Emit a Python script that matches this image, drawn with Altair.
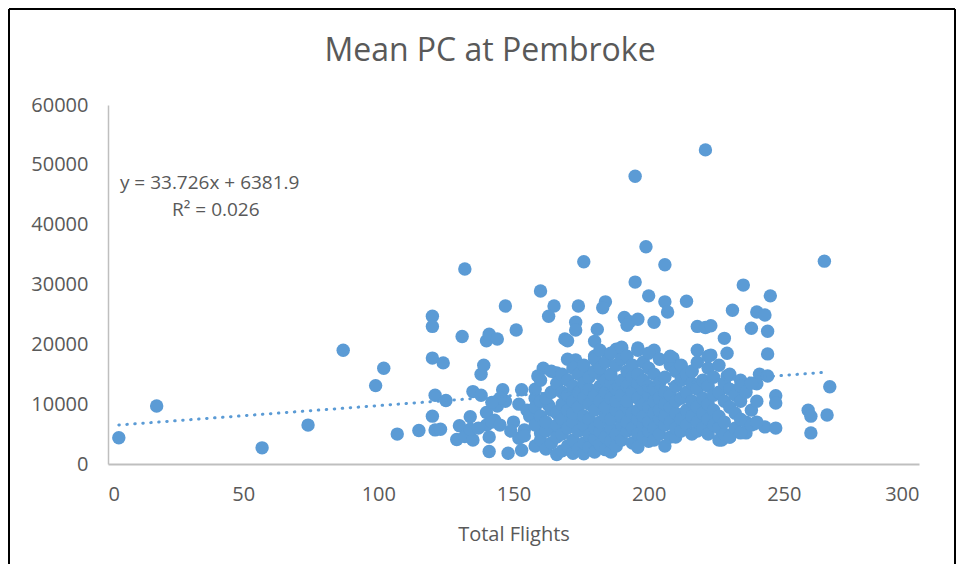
import altair as alt
import pandas as pd

# ---- sparse / outlying points (Total Flights, Mean PC) ----
flights_left = [4, 18, 57, 74, 87, 99, 102, 107, 115, 120,
                121, 123, 120, 120, 120, 124, 121, 125, 131, 130,
                129, 132, 135, 135, 138, 138, 139, 140, 141, 144,
                151, 146, 140, 144, 134, 140, 143, 141, 141, 148,
                153, 153, 152, 155, 156, 158, 163, 163, 160, 160,
                154, 152, 154, 147, 150, 149, 145, 142, 142, 145,
                134, 137]
pc_left = [4400, 9700, 2700, 6500, 19000, 13100, 16000, 5000, 5600, 8000,
           5700, 5800, 24700, 23000, 17700, 16900, 11500, 10600, 21300, 6400,
           4100, 4600, 4000, 12100, 11500, 15000, 16500, 20600, 21700, 20900,
           22400, 12400, 8600, 9700, 5800, 6500, 7300, 4500, 2100, 1800,
           2300, 12400, 10000, 9000, 8000, 11000, 9800, 6000, 7400, 5200,
           5700, 4300, 4700, 10500, 7000, 5500, 11000, 10300, 7000, 6500,
           7900, 6000]

flights_high = [221, 195, 199, 176, 206, 265, 132, 195, 235, 160,
                200, 245, 184, 174, 206, 214, 147, 165, 183, 207,
                231, 240, 243, 163, 191, 193, 196, 192, 173, 202,
                218, 221, 223, 238, 244, 173, 181, 169, 228, 180,
                170, 188, 190, 196, 202, 180, 185, 191, 218, 223,
                244, 229, 161, 173, 176, 182, 159, 166, 209, 212,
                216, 241, 244, 229, 234, 240, 247, 247, 259, 260,
                266, 260, 267, 239, 243, 247, 236, 230, 227]
pc_high = [52500, 48100, 36300, 33800, 33300, 33900, 32600, 30400, 29900, 28900,
           28100, 28100, 27100, 26400, 27100, 27200, 26400, 26400, 26100, 25400,
           25700, 25400, 24900, 24700, 24500, 23800, 24200, 23200, 23700, 23700,
           23000, 22800, 23100, 22700, 22200, 22400, 22500, 20900, 21000, 20500,
           20600, 19200, 19300, 19400, 19000, 18000, 18200, 18000, 19000, 18200,
           18400, 18500, 16000, 17400, 16200, 15000, 14700, 15200, 17700, 16400,
           15500, 15000, 14700, 14700, 14000, 13400, 11400, 10200, 9000, 8000,
           8200, 5200, 12900, 6700, 6200, 6000, 5200, 4500, 4000]

# ---- dense central cloud: Total Flights -> Mean PC values ----
cloud = {
    158: [3000, 6500, 9500, 12500],
    160: [4000, 8000, 10500, 14000],
    162: [2500, 5500, 7000, 11000],
    164: [3500, 9000, 12000, 15500],
    166: [1600, 4500, 6500, 8500, 13500],
    168: [2200, 5000, 7500, 10000, 12000, 15000],
    170: [3000, 6000, 9000, 11500, 14000, 17500],
    172: [1800, 4000, 7000, 8500, 10500, 13000, 16000],
    174: [2500, 5500, 9500, 12000, 15000],
    176: [1700, 3500, 6500, 8000, 11000, 13500, 16500],
    178: [2800, 4800, 7500, 10000, 12500, 14500],
    180: [2000, 4200, 6000, 9000, 11500, 15500, 17500],
    182: [3200, 5500, 7000, 10500, 13000, 16000, 19000],
    184: [2400, 4500, 8000, 9500, 12000, 14000, 17000],
    186: [2000, 3800, 6000, 7500, 11000, 13500, 15000, 18500],
    188: [3000, 5000, 9000, 10500, 12500, 16500],
    190: [4000, 6500, 8000, 11500, 14000, 17500, 19500],
    192: [5500, 7000, 9500, 10500, 13000, 15500, 18000],
    194: [3500, 6000, 8500, 12000, 14500, 16500],
    196: [2800, 5000, 7500, 9000, 11000, 13500, 15000, 19000],
    198: [4500, 6500, 8000, 10000, 12500, 14000, 17000],
    200: [3800, 5500, 7000, 9500, 11500, 13000, 16000, 18500],
    202: [4000, 6000, 8500, 10500, 12500, 15000],
    204: [5000, 7500, 9000, 11000, 13500, 17500],
    206: [3000, 6500, 8000, 10000, 12000, 14500],
    208: [4500, 7000, 9500, 11500, 16500, 18000],
    210: [4500, 6000, 8500, 10500, 13000, 15500],
    212: [5500, 7500, 11000, 14000, 16500],
    214: [6500, 9000, 12000, 15000],
    216: [5000, 8000, 10500, 13500, 15500],
    218: [5500, 7000, 9500, 12500, 17000],
    220: [6000, 8500, 11000, 14000],
    222: [5000, 7500, 10000, 13000, 16000, 18000],
    224: [6500, 9000, 11500, 14500],
    226: [4000, 6000, 8000, 12000, 16500],
    228: [5000, 7000, 10500, 13500],
    230: [4500, 9500, 12500, 15000],
    232: [6000, 8500, 11500],
    234: [5200, 7500, 10500, 13000],
    236: [7000, 12000],
    238: [6500, 9000, 13500],
    240: [7000, 10500],
}

slope = 33.726
intercept = 6381.9
trend_x = [4, 265]

x_ticks = [0, 50, 100, 150, 200, 250, 300]
y_ticks = [0, 10000, 20000, 30000, 40000, 50000, 60000]

chart_title = "Mean PC at Pembroke"

flights = flights_left + flights_high
pc = pc_left + pc_high
for fx, ys in cloud.items():
    for yv in ys:
        flights.append(fx)
        pc.append(yv)

df = pd.DataFrame({"flights": flights, "pc": pc})
trend = pd.DataFrame({"flights": trend_x, "pc": [slope * v + intercept for v in trend_x]})
notes = pd.DataFrame({
    "flights": [4.4, 23.7],
    "pc": [46900, 42400],
    "label": ["y = 33.726x + 6381.9", "R\u00b2 = 0.026"],
})

BLUE = "#5B9BD5"
GREY = "#595959"
FONT = "Open Sans"

xs = alt.Scale(domain=[0, 300], nice=False, zero=False)
ys_ = alt.Scale(domain=[0, 60000], nice=False)

x_axis = alt.Axis(values=x_ticks, title="Total Flights", grid=False, ticks=False,
                  labelPadding=20, titlePadding=20, domainColor="#BFBFBF", domainWidth=2,
                  labelFontSize=20, titleFontSize=20, labelColor=GREY, titleColor=GREY,
                  labelFont=FONT, titleFont=FONT, titleFontWeight="normal", format="d")
y_axis = alt.Axis(values=y_ticks, title=None, grid=False, ticks=False,
                  labelPadding=20, domainColor="#BFBFBF", domainWidth=1.5,
                  labelFontSize=20, labelColor=GREY, labelFont=FONT, format="d")

points = alt.Chart(df).mark_circle(size=180, color=BLUE, opacity=1).encode(
    x=alt.X("flights:Q", scale=xs, axis=x_axis),
    y=alt.Y("pc:Q", scale=ys_, axis=y_axis),
)

line = alt.Chart(trend).mark_line(color=BLUE, strokeWidth=3, strokeDash=[0.5, 7.5],
                                  strokeCap="round").encode(
    x=alt.X("flights:Q", scale=xs),
    y=alt.Y("pc:Q", scale=ys_),
)

text = alt.Chart(notes).mark_text(align="left", baseline="middle", fontSize=19,
                                  font=FONT, color=GREY).encode(
    x=alt.X("flights:Q", scale=xs),
    y=alt.Y("pc:Q", scale=ys_),
    text="label:N",
)

one = pd.DataFrame({"title": [chart_title]})
title_mark = alt.Chart(one).mark_text(align="center", baseline="middle", fontSize=32,
                                      font=FONT, color=GREY).encode(
    x=alt.value(382), y=alt.value(-54), text="title:N")
frame_left = alt.Chart(one).mark_rule(color="#000000", strokeWidth=2).encode(
    x=alt.value(-99), y=alt.value(-96), y2=alt.value(470))
frame_top = alt.Chart(one).mark_rule(color="#000000", strokeWidth=2).encode(
    x=alt.value(-99), x2=alt.value(847), y=alt.value(-96))
frame_right = alt.Chart(one).mark_rule(color="#000000", strokeWidth=2).encode(
    x=alt.value(847), y=alt.value(-96), y2=alt.value(470))

chart = alt.layer(points, line, text, title_mark, frame_left, frame_top, frame_right).properties(
    width=811,
    height=359,
    padding={"left": 100, "top": 97, "right": 37, "bottom": 100},
    autosize=alt.AutoSizeParams(type="none"),
    background="white",
).configure_view(stroke=None)

chart.save("out.html", embed_options={"renderer": "svg", "actions": False})
